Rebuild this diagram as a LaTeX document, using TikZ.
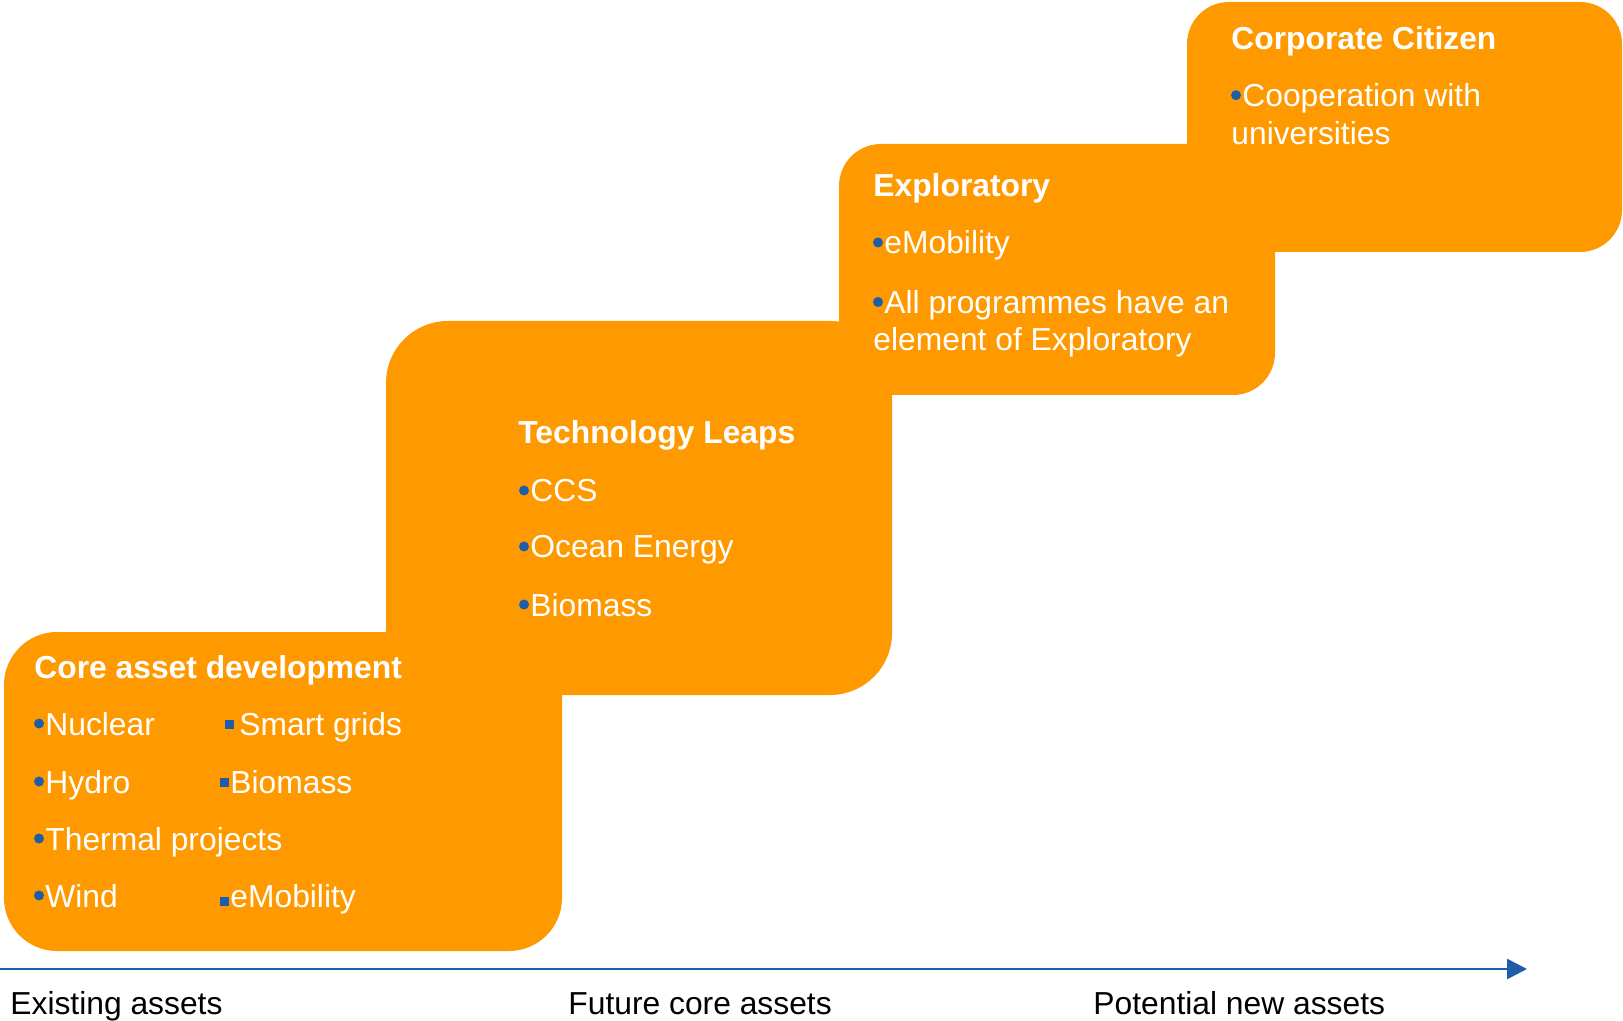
\documentclass[tikz,border=0pt]{standalone}
\usepackage{fontspec}
\setmainfont{Liberation Sans}
\usetikzlibrary{arrows.meta}
\definecolor{stairorange}{RGB}{255,153,0}
\definecolor{bulletblue}{RGB}{30,94,168}
\tikzset{
  stair/.style={fill=stairorange},
  head/.style={anchor=base west,inner sep=0pt,text=white,font=\fontsize{15.9}{19}\selectfont\bfseries},
  entry/.style={anchor=base west,inner sep=0pt,text=white,font=\fontsize{15.9}{19}\selectfont},
  axislabel/.style={anchor=base west,inner sep=0pt,text=black,font=\fontsize{15.9}{19}\selectfont},
  bulletdot/.style={fill=bulletblue},
  axisline/.style={draw=bulletblue,line width=1.3pt,-{Triangle[length=10pt,width=10pt]}}
}
\newcommand\roundentry[4]{%
  \node[entry] (#1) at (#2,#3) {#4};
  \fill[bulletdot] (#2-6,#3-11.5) circle[radius=5];}
\begin{document}
\begin{tikzpicture}[x=0.5pt,y=-0.5pt]
  \useasboundingbox (0,0) rectangle (1623,1021);
  \fill[stair,rounded corners=26.5pt] (4,632) rectangle (562,951);
  \fill[stair,rounded corners=31pt] (386,321) rectangle (892,695);
  \fill[stair,rounded corners=21pt] (839,144) rectangle (1275,395);
  \fill[stair,rounded corners=21pt] (1187,2) rectangle (1622,252);

  \node[head] (core) at (34,678) {Core asset development};
  \roundentry{nuclear}{45}{735}{Nuclear}
  \roundentry{hydro}{45}{793}{Hydro}
  \roundentry{thermal}{45}{850}{Thermal projects}
  \roundentry{wind}{45}{907}{Wind}
  \node[entry] (grids) at (239,735) {Smart grids};
  \fill[bulletdot] (225,720) rectangle (234,729);
  \node[entry] (biomassa) at (230,793) {Biomass};
  \fill[bulletdot] (219.5,778) rectangle (228.5,787);
  \node[entry] (emobilitya) at (230,907) {eMobility};
  \fill[bulletdot] (219.5,897) rectangle (228.5,906);

  \node[head] (leaps) at (518,444) {Technology Leaps};
  \roundentry{ccs}{530}{502}{CCS}
  \roundentry{ocean}{530}{558}{Ocean Energy}
  \roundentry{biomassb}{530}{616}{Biomass}

  \node[head] (explor) at (873,197) {Exploratory};
  \roundentry{emobilityb}{884}{254}{eMobility}
  \roundentry{programmes}{884}{313.5}{All programmes have an}
  \node[entry] (element) at (873,350.5) {element of Exploratory};

  \node[head] (citizen) at (1231,50) {Corporate Citizen};
  \roundentry{cooperation}{1242}{106.7}{Cooperation with}
  \node[entry] (universities) at (1231,145) {universities};

  \coordinate (axstart) at (0,969);
  \coordinate (axend) at (1527,969);
  \draw[axisline] (axstart) -- (axend);
  \node[axislabel] (existing) at (10,1014) {Existing assets};
  \node[axislabel] (future) at (568,1014) {Future core assets};
  \node[axislabel] (potential) at (1093,1014) {Potential new assets};
\end{tikzpicture}
\end{document}
